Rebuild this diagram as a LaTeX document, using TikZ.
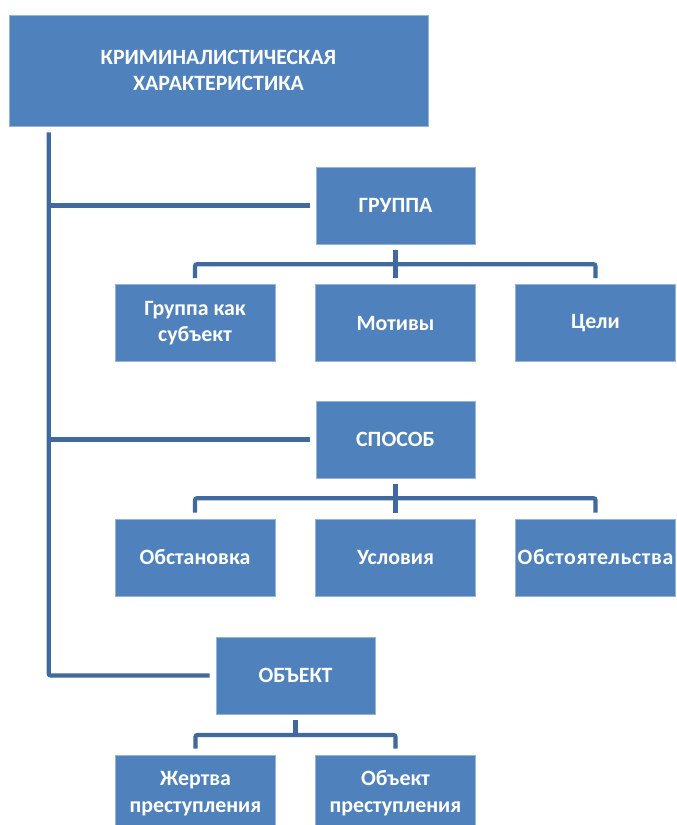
\documentclass[tikz,border=0pt]{standalone}
\usepackage{fontspec}
\setmainfont{Carlito}
\usepackage{tikz}
\usetikzlibrary{positioning}
\definecolor{chartBlue}{RGB}{79, 129, 189}
\definecolor{chartEdge}{RGB}{150, 180, 215}
\definecolor{lineBlue}{RGB}{64, 105, 158}
\tikzset{
  boxBase/.style={
    draw=chartEdge,
    line width=0.4pt,
    fill=chartBlue,
    inner sep=0pt,
    align=center,
    text=white,
    font=\fontsize{16.4}{20}\selectfont\bfseries
  },
  topBox/.style={
    boxBase,
    minimum width=314.25pt,
    minimum height=83.25pt
  },
  headBox/.style={
    boxBase,
    minimum width=119.25pt,
    minimum height=57.75pt
  },
  leafBox/.style={
    boxBase,
    minimum width=120pt,
    minimum height=57.75pt
  },
  connLine/.style={
    draw=lineBlue,
    line width=3.2pt,
    rounded corners=1.5pt
  },
  gapBoth/.style={
    shorten <=4.5pt,
    shorten >=4.5pt
  }
}
\begin{document}
\begin{tikzpicture}[x=0.75pt, y=-0.75pt]
  \useasboundingbox (0,0) rectangle (676,825);
  % top of the chart
  \node[topBox] (crimChar) at (218.5,70.5) {КРИМИНАЛИСТИЧЕСКАЯ\\ХАРАКТЕРИСТИКА};
  % three branches
  \node[headBox] (grp) at (395.5,205.5) {ГРУППА};
  \node[headBox] (way) at (395.5,439.5) {СПОСОБ};
  \node[headBox] (obj) at (295.5,675.5) {ОБЪЕКТ};
  % leaves of ГРУППА
  \node[leafBox] (subj)   at (195,323)   {Группа как\\субъект};
  \node[leafBox] (motive) at (395.5,323) {Мотивы};
  \node[leafBox] (goal)   at (595.5,323) {Цели};
  % leaves of СПОСОБ
  \node[leafBox] (setting) at (195,557.5)   {Обстановка};
  \node[leafBox] (cond)    at (395.5,557.5) {Условия};
  \node[leafBox] (circ)    at (595.5,557.5) {\addfontfeature{LetterSpace=3}Обстоятельства};
  % leaves of ОБЪЕКТ
  \node[leafBox] (victim) at (195.5,793.5) {Жертва\\преступления};
  \node[leafBox] (target) at (395.5,793.5) {Объект\\преступления};

  % spine on the left
  \coordinate (spine) at ([xshift=30pt]crimChar.south west);
  \draw[connLine, gapBoth] (spine) |- (obj.west);
  \draw[connLine, shorten >=4.5pt] (spine |- grp.west) -- (grp.west);
  \draw[connLine, shorten >=4.5pt] (spine |- way.west) -- (way.west);

  % brackets under each branch
  \coordinate (grpBar) at ([yshift=-15pt]grp.south);
  \draw[connLine, gapBoth] (grp.south) -- (motive.north);
  \draw[connLine, gapBoth] (subj.north) |- (grpBar) -| (goal.north);

  \coordinate (wayBar) at ([yshift=-15pt]way.south);
  \draw[connLine, gapBoth] (way.south) -- (cond.north);
  \draw[connLine, gapBoth] (setting.north) |- (wayBar) -| (circ.north);

  \coordinate (objBar) at ([yshift=-15.5pt]obj.south);
  \draw[connLine, shorten <=4.5pt] (obj.south) -- (obj |- objBar);
  \draw[connLine, gapBoth] (victim.north) |- (objBar) -| (target.north);
\end{tikzpicture}
\end{document}
